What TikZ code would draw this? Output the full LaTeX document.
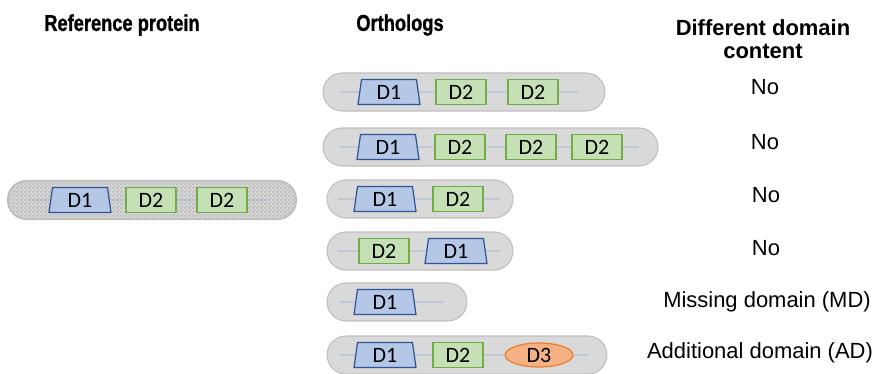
\documentclass[tikz,border=0pt]{standalone}
\usepackage{fontspec}
\setmainfont{Liberation Sans}
\newfontfamily\domfont{Carlito}
\newfontfamily\heavyfont[BoldFeatures={FakeBold=1.2}]{Liberation Sans}
\usetikzlibrary{shapes.geometric,patterns}

\definecolor{capfill}{HTML}{D9D9D9}
\definecolor{capdraw}{HTML}{BFBFBF}
\definecolor{donefill}{HTML}{B4C7E7}
\definecolor{donedraw}{HTML}{2F5597}
\definecolor{dtwofill}{HTML}{C5E0B4}
\definecolor{dtwodraw}{HTML}{70AD47}
\definecolor{dthreefill}{HTML}{F4B183}
\definecolor{dthreedraw}{HTML}{ED7D31}
\definecolor{chainline}{HTML}{8FAADC}

\pgfdeclarepatternformonly{finechecker}{\pgfpointorigin}{\pgfqpoint{2.3pt}{2.3pt}}{\pgfqpoint{2.3pt}{2.3pt}}
{
	\pgfpathrectangle{\pgfpointorigin}{\pgfqpoint{1.15pt}{1.15pt}}
	\pgfpathrectangle{\pgfqpoint{1.15pt}{1.15pt}}{\pgfqpoint{1.15pt}{1.15pt}}
	\pgfusepath{fill}
}

\tikzset{
	capsule/.style={draw=capdraw, fill=capfill, line width=0.6pt, rounded corners=0.38cm,
		minimum height=0.76cm, inner sep=0pt},
	dlabel/.style={font=\domfont\fontsize{12.5}{13}\selectfont},
	done/.style={trapezium, trapezium left angle=76, trapezium right angle=76,
		trapezium stretches body, draw=donedraw, fill=donefill, line width=0.7pt,
		minimum width=1.24cm, minimum height=0.5cm, inner sep=0pt, dlabel},
	dtwo/.style={rectangle, draw=dtwodraw, fill=dtwofill, line width=0.7pt,
		minimum width=1cm, minimum height=0.5cm, inner sep=0pt, dlabel},
	dthree/.style={ellipse, draw=dthreedraw, fill=dthreefill, line width=0.7pt,
		minimum width=1.36cm, minimum height=0.48cm, inner sep=0pt, dlabel},
	chain/.style={draw=chainline, line width=0.5pt},
	header/.style={font=\bfseries\fontsize{12.5}{14}\selectfont, align=center},
	narrowhead/.style={font=\heavyfont\bfseries\fontsize{13}{14}\selectfont},
	answer/.style={font=\fontsize{12.5}{14}\selectfont}
}

\begin{document}
\begin{tikzpicture}[x=0.02cm, y=-0.02cm]
	\useasboundingbox (0,0) rectangle (875,374);

	% column titles
	\node[narrowhead] (hRef) at (122,25) {\scalebox{0.8}[1]{Reference protein}};
	\node[narrowhead] (hOrth) at (400,25) {\scalebox{0.8}[1]{Orthologs}};
	\node[header] (hDiff) at (763,39) {Different domain\\[-1pt]content};

	% reference protein
	\node[capsule, minimum width=5.76cm] (rc) at (152,200) {};
	\fill[pattern=finechecker, pattern color=gray!55, rounded corners=0.38cm]
		(rc.south west) rectangle (rc.north east);
	\draw[capdraw, line width=0.6pt, rounded corners=0.38cm] (rc.south west) rectangle (rc.north east);
	\coordinate (rs) at (30,200);
	\coordinate (re) at (267,200);
	\node[done] (ra) at (80,200) {D1};
	\node[dtwo] (rb) at (151,200) {D2};
	\node[dtwo] (rd) at (222,200) {D2};
	\draw[chain] (rs) -- (ra) -- (rb) -- (rd) -- (re);

	% ortholog 1
	\node[capsule, minimum width=5.64cm] (c1) at (464,92) {};
	\coordinate (s1) at (340,92);
	\coordinate (e1) at (578,92);
	\node[done] (a1) at (389,92) {D1};
	\node[dtwo] (b1) at (461,92) {D2};
	\node[dtwo] (d1) at (533,92) {D2};
	\draw[chain] (s1) -- (a1) -- (b1) -- (d1) -- (e1);

	% ortholog 2
	\node[capsule, minimum width=6.7cm] (c2) at (490.5,147) {};
	\coordinate (s2) at (340,147);
	\coordinate (e2) at (638,147);
	\node[done] (a2) at (388,147) {D1};
	\node[dtwo] (b2) at (460,147) {D2};
	\node[dtwo] (d2) at (531,147) {D2};
	\node[dtwo] (f2) at (597,147) {D2};
	\draw[chain] (s2) -- (a2) -- (b2) -- (d2) -- (f2) -- (e2);

	% ortholog 3
	\node[capsule, minimum width=3.72cm] (c3) at (420,199) {};
	\coordinate (s3) at (338,199);
	\coordinate (e3) at (500,199);
	\node[done] (a3) at (385,199) {D1};
	\node[dtwo] (b3) at (458,199) {D2};
	\draw[chain] (s3) -- (a3) -- (b3) -- (e3);

	% ortholog 4
	\node[capsule, minimum width=3.72cm] (c4) at (420,251) {};
	\coordinate (s4) at (338,251);
	\coordinate (e4) at (500,251);
	\node[dtwo] (b4) at (384,251) {D2};
	\node[done] (a4) at (456,251) {D1};
	\draw[chain] (s4) -- (b4) -- (a4) -- (e4);

	% ortholog 5
	\node[capsule, minimum width=2.8cm] (c5) at (397,302) {};
	\coordinate (s5) at (340,302);
	\coordinate (e5) at (443,302);
	\node[done] (a5) at (385,302) {D1};
	\draw[chain] (s5) -- (a5) -- (e5);

	% ortholog 6
	\node[capsule, minimum width=5.6cm] (c6) at (467,355) {};
	\coordinate (s6) at (340,355);
	\coordinate (e6) at (588,355);
	\node[done] (a6) at (385,355) {D1};
	\node[dtwo] (b6) at (458,355) {D2};
	\node[dthree] (g6) at (539,355) {D3};
	\draw[chain] (s6) -- (a6) -- (b6) -- (g6) -- (e6);

	% answers
	\node[answer] (n1) at (765,87) {No};
	\node[answer] (n2) at (765,142) {No};
	\node[answer] (n3) at (766,195) {No};
	\node[answer] (n4) at (766,248) {No};
	\node[answer] (n5) at (767,302) {Missing domain (MD)};
	\node[answer, anchor=east, inner xsep=1pt] (n6) at (875,353) {Additional domain (AD)};
\end{tikzpicture}
\end{document}
